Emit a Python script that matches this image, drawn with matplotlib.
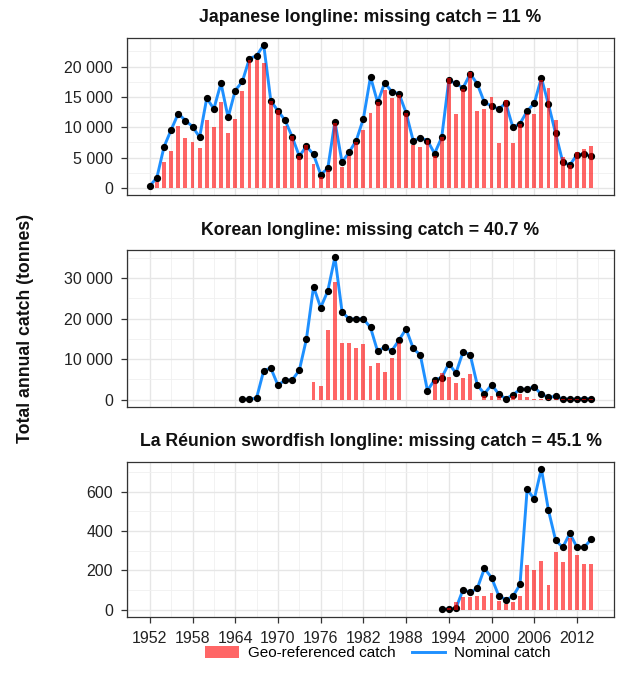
import numpy as np
import matplotlib.pyplot as plt
from matplotlib.ticker import MultipleLocator, FuncFormatter
from matplotlib.patches import Patch
from matplotlib.lines import Line2D

plt.rcParams['font.family'] = ['Liberation Sans', 'DejaVu Sans']
plt.rcParams['axes.linewidth'] = 0.9

nan = np.nan
years = np.arange(1952, 2015)

# Japanese longline (tonnes), 1952-2014
jpn_nominal = [300, 1700, 6760, 9560, 12250, 11100, 10100, 8350, 14780, 13020,
               17250, 11600, 16040, 17530, 21320, 21760, 23570, 14340, 12690, 11150,
               8400, 5220, 6870, 5500, 2200, 3190, 10930, 4230, 5880, 7800,
               11400, 18300, 14070, 17310, 15820, 15550, 12360, 7750, 8240, 7800,
               5660, 8300, 17750, 17200, 16480, 18790, 17140, 14070, 13520, 12970,
               13960, 9950, 10600, 12640, 13960, 18130, 13740, 8960, 4290, 3740,
               5490, 5550, 5270]
jpn_georef = [nan, 900, 4290, 6040, 10220, 8240, 7580, 6590, 11150, 9950,
              14120, 9120, 11320, 15930, 21040, 21040, 20600, 14290, 12800, 10160,
              8520, 5330, 7030, 4010, 1810, 2910, 10710, 3460, 5330, 7580,
              9560, 12360, 14180, 16100, 14730, 15270, 12360, 7030, 6760, 7860,
              5220, 8300, 18130, 12090, 16370, 19120, 12640, 12970, 15000, 7420,
              14450, 7310, 10600, 12250, 12090, 17750, 16540, 11150, 5110, 3740,
              5930, 6370, 6920]

# Korean longline (tonnes), 1952-2014
kor_nominal = [nan] * 13 + [
    80, 50, 400, 7130, 7790, 3520, 4840, 4840, 7210, 14920,
    27870, 22700, 26800, 35160, 21720, 19840, 19920, 19920, 17790, 11890,
    12950, 12050, 14670, 17460, 12620, 10980, 2210, 4900, 5400, 8880,
    6550, 11780, 11090, 3590, 1430, 3640, 1430, 200, 1180, 2500,
    2580, 3150, 1270, 570, 780, 150, 100, 100, 250, 150]
kor_georef = [nan] * 23 + [
    4260, 3280, 17210, 29100, 14020, 13850, 12700, 13610, 8360, 8930,
    6890, 10160, 13850, nan, nan, nan, nan, 4950, 6500, 5520,
    4210, 5230, 6340, nan, 900, 900, 800, nan, 1000, 1400,
    600, 250, 250, 200, 150, 100, 50, 50, 100, 50]

# La Reunion swordfish longline (tonnes), 1952-2014
reu_nominal = [nan] * 41 + [
    2, 3, 7, 102, 88, 108, 210, 163, 72, 50,
    67, 128, 612, 563, 717, 505, 353, 317, 388, 317,
    317, 358]
reu_georef = [nan] * 41 + [
    nan, 10, 37, 62, 62, 68, 68, 87, 42, 27,
    37, 72, 225, 200, 248, 123, 295, 240, 363, 277,
    232, 232]

titles = ['Japanese longline: missing catch = 11 %',
          'Korean longline: missing catch = 40.7 %',
          'La Réunion swordfish longline: missing catch = 45.1 %']
y_steps = [5000, 10000, 200]

panels = [(jpn_nominal, jpn_georef), (kor_nominal, kor_georef), (reu_nominal, reu_georef)]

W, H = 619, 687
fig = plt.figure(figsize=(W / 100, H / 100), dpi=100)

# panel boxes in pixels: (top, bottom)
boxes = [(37.7, 195.0), (250.0, 406.7), (461.7, 616.7)]
left_px, right_px = 127, 614

thousands = FuncFormatter(lambda v, p: '{:,}'.format(int(round(v))).replace(',', ' '))

for i, ((nominal, georef), (top, bottom)) in enumerate(zip(panels, boxes)):
    ax = fig.add_axes([left_px / W, 1 - bottom / H,
                       (right_px - left_px) / W, (bottom - top) / H])
    nominal = np.array(nominal, dtype=float)
    georef = np.array(georef, dtype=float)

    ax.plot(years, nominal, color='#1E90FF', lw=2.1, zorder=2, solid_capstyle='round')
    ax.plot(years, nominal, 'o', color='black', ms=4.2, zorder=3)
    ax.bar(years, np.nan_to_num(georef), width=0.55, color='red', alpha=0.6,
           linewidth=0, zorder=4)

    ymax = max(np.nanmax(nominal), np.nanmax(georef))
    ax.set_ylim(-0.05 * ymax, 1.05 * ymax)
    ax.set_xlim(1948.8, 2017.2)

    ax.yaxis.set_major_locator(MultipleLocator(y_steps[i]))
    ax.yaxis.set_minor_locator(MultipleLocator(y_steps[i] / 2))
    ax.yaxis.set_major_formatter(thousands)
    ax.set_xticks(np.arange(1952, 2015, 6))
    ax.set_xticks(np.arange(1949, 2016, 6), minor=True)

    ax.set_axisbelow(True)
    ax.grid(which='major', color='#e6e6e6', lw=1.0)
    ax.grid(which='minor', color='#f0f0f0', lw=0.6)
    for s in ax.spines.values():
        s.set_color('#333333')

    ax.tick_params(axis='y', which='major', length=4, width=0.9, color='#333333',
                   labelsize=11.5, labelcolor='#222222', pad=6)
    ax.tick_params(which='minor', length=0)
    if i < 2:
        ax.tick_params(axis='x', which='major', length=0, labelbottom=False)
    else:
        ax.tick_params(axis='x', which='major', length=4, width=0.9, color='#333333',
                       labelsize=11.5, labelcolor='#222222', pad=6)

    ax.set_title(titles[i], fontsize=12.7, fontweight='bold', pad=11, color='#111111')

fig.text(26 / W, 1 - 328 / H, 'Total annual catch (tonnes)', rotation=90,
         ha='center', va='center', fontsize=12.7, fontweight='bold', color='#111111')

handles = [Patch(facecolor='red', alpha=0.6, linewidth=0),
           Line2D([], [], color='#1E90FF', lw=2.1)]
fig.legend(handles, ['Geo-referenced catch', 'Nominal catch'], loc='center',
           bbox_to_anchor=(378 / W, 1 - 653 / H), ncol=2, frameon=False,
           fontsize=11, handlelength=2.2, handleheight=0.9, columnspacing=1.05,
           handletextpad=0.6)

fig.savefig('out.png', dpi=100)
